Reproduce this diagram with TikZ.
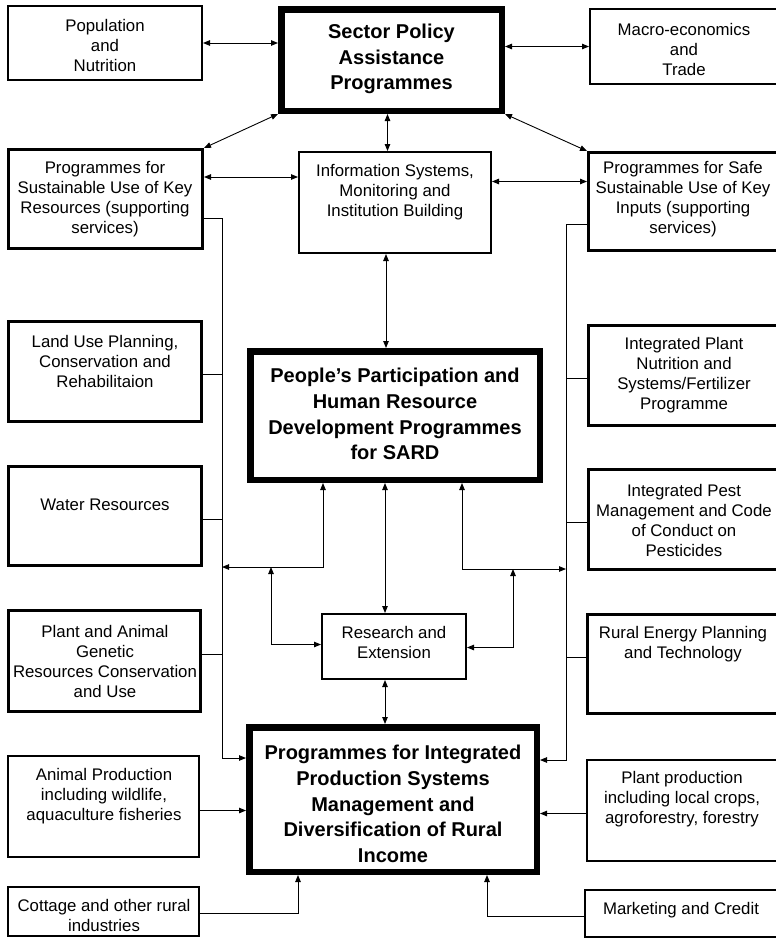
\documentclass[tikz,border=0pt]{standalone}
\usepackage{fontspec}
\setmainfont{Liberation Sans}
\usetikzlibrary{arrows.meta,fit}

\begin{document}
\begin{tikzpicture}[x=1pt,y=-1pt,
  >={Triangle[length=7pt,width=5.5pt]},
  conn/.style={line width=0.9pt},
  thinbox/.style={draw, inner sep=0pt, line width=1.6pt},
  midbox/.style={draw, inner sep=0pt, line width=3.4pt},
  heavybox/.style={draw, inner sep=0pt, line width=6.5pt},
  txt/.style={align=center, inner sep=0pt, font=\fontsize{16.8}{20}\selectfont},
  bigtxt/.style={align=center, inner sep=0pt, font=\fontsize{20}{25.7}\selectfont\bfseries}]

\clip (0,0) rectangle (776,940);
\fill[white] (0,0) rectangle (776,940);

% ---------- boxes ----------
\node[heavybox, fit={(281.25,9.25)(501.75,110.75)}] (sector) {};
\node[heavybox, fit={(250.25,351.25)(539.75,479.75)}] (people) {};
\node[heavybox, fit={(249.25,727.25)(536.75,871.75)}] (ipsm) {};

\node[thinbox, fit={(7.8,5.8)(202.2,80.2)}] (pop) {};
\node[thinbox, fit={(589.8,8.8)(779,84.2)}] (macro) {};
\node[thinbox, fit={(298.8,151.8)(491.2,253.2)}] (info) {};
\node[thinbox, fit={(321.8,613.8)(466.2,679.2)}] (res) {};
\node[thinbox, fit={(7.8,755.8)(199.2,857.2)}] (animal) {};
\node[thinbox, fit={(586.8,759.8)(779,861.2)}] (plantprod) {};
\node[thinbox, fit={(7.8,886.8)(199.2,936.2)}] (cottage) {};
\node[thinbox, fit={(584.8,889.8)(779,937.2)}] (market) {};

\node[midbox, fit={(8.7,149.7)(202.3,248.3)}] (sust) {};
\node[midbox, fit={(588.7,152.7)(779,250.3)}] (safe) {};
\node[midbox, fit={(8.7,321.7)(201.3,421.3)}] (land) {};
\node[midbox, fit={(8.7,466.7)(201.3,565.3)}] (water) {};
\node[midbox, fit={(8.7,610.7)(200.3,711.3)}] (genetic) {};
\node[midbox, fit={(588.7,325.7)(779,425.3)}] (ipn) {};
\node[midbox, fit={(588.7,469.7)(779,569.3)}] (ipm) {};
\node[midbox, fit={(587.7,614.7)(779,713.3)}] (energy) {};

% ---------- texts ----------
\node[bigtxt] (sectorT) at (391.5,59) {Sector Policy\\Assistance\\Programmes};
\node[bigtxt] (peopleT) at (395,414) {People’s Participation and\\Human Resource\\Development Programmes\\for SARD};
\node[bigtxt] (ipsmT) at (393,804) {Programmes for Integrated\\Production Systems\\Management and\\Diversification of Rural\\Income};

\node[txt] (popT) at (105,45) {Population\\and\\Nutrition};
\node[txt] (macroT) at (684,49) {Macro-economics\\and\\Trade};
\node[txt] (sustT) at (105,199) {Programmes for\\Sustainable Use of Key\\Resources (supporting\\services)};
\node[txt] (infoT) at (395,192) {Information Systems,\\Monitoring and\\Institution Building};
\node[txt] (safeT) at (683,199) {Programmes for Safe\\Sustainable Use of Key\\Inputs (supporting\\services)};
\node[txt] (landT) at (105,361) {Land Use Planning,\\Conservation and\\Rehabilitaion};
\node[txt] (waterT) at (105,505) {Water Resources};
\node[txt] (ipnT) at (684,375) {Integrated Plant\\Nutrition and\\Systems/Fertilizer\\Programme};
\node[txt] (ipmT) at (684,520) {Integrated Pest\\Management and Code\\of Conduct on\\Pesticides};
\node[txt] (resT) at (394,642) {Research and\\Extension};
\node[txt] (geneticT) at (105,661) {Plant and Animal\\Genetic\\Resources Conservation\\and Use};
\node[txt] (energyT) at (683,644) {Rural Energy Planning\\and Technology};
\node[txt] (animalT) at (104,796) {Animal Production\\including wildlife,\\aquaculture fisheries};
\node[txt] (plantprodT) at (682,799) {Plant production\\including local crops,\\agroforestry, forestry};
\node[txt] (cottageT) at (104,915) {Cottage and other rural\\industries};
\node[txt] (marketT) at (681,910) {Marketing and Credit};

% ---------- junction points of the bus lines ----------
\coordinate (lbusend) at (222,758);
\coordinate (rbusend) at (566,760);
\coordinate (lj) at (222,567);
\coordinate (lk) at (271,567);
\coordinate (rj) at (566,569);
\coordinate (rk) at (513,569);

% ---------- top connectors ----------
\draw[conn,<->] (pop.east) -- (pop.east -| sector.west);
\draw[conn,<->] (sector.east |- macro.west) -- (macro.west);
\draw[conn,<->] (sector.south west) -- (sust.north east);
\draw[conn,<->] (sector.south east) -- (safe.north west);
\draw[conn,<->] ([xshift=-4]sector.south) -- ([xshift=-4]sector.south |- info.north);
\draw[conn,<->] ([yshift=22]sust.east) -- ([yshift=22]sust.east -| info.west);
\draw[conn,<->] ([yshift=21]info.east) -- ([yshift=21]info.east -| safe.west);
\draw[conn,<->] ([xshift=-9]info.south) -- ([xshift=-9]info.south |- people.north);
\draw[conn,<->] ([xshift=-10]people.south) -- ([xshift=-10]people.south |- res.north);
\draw[conn,<->] ([xshift=-9]res.south) -- ([xshift=-9]res.south |- ipsm.north);

% ---------- left bus ----------
\draw[conn,->] ([yshift=-19]sust.east) -| (lbusend) -- (lbusend -| ipsm.west);
\draw[conn] ([yshift=-3]land.east) -- ([yshift=-3]land.east -| lbusend);
\draw[conn] ([yshift=-3]water.east) -- ([yshift=-3]water.east -| lbusend);
\draw[conn] ([yshift=7]genetic.east) -- ([yshift=7]genetic.east -| lbusend);
\draw[conn,->] ([yshift=-4]animal.east) -- ([yshift=-4]animal.east -| ipsm.west);
\draw[conn,->] ([yshift=-2]cottage.east) -| ([xshift=-95]ipsm.south);

% ---------- right bus ----------
\draw[conn,->] ([yshift=-23]safe.west) -| (rbusend) -- (rbusend -| ipsm.east);
\draw[conn] ([yshift=-3]ipn.west) -- ([yshift=-3]ipn.west -| rbusend);
\draw[conn] ([yshift=-3]ipm.west) -- ([yshift=-3]ipm.west -| rbusend);
\draw[conn] ([yshift=7]energy.west) -- ([yshift=7]energy.west -| rbusend);
\draw[conn,->] ([yshift=-3]plantprod.west) -- ([yshift=-3]plantprod.west -| ipsm.east);
\draw[conn,->] ([yshift=-3]market.west) -| ([xshift=94]ipsm.south);

% ---------- branches around research and extension ----------
\draw[conn,<->] ([xshift=-72]people.south) |- (lj);
\draw[conn,<->] (lk) |- ([yshift=2]res.west);
\draw[conn,<->] ([xshift=67]people.south) |- (rj);
\draw[conn,<->] (rk) |- ([yshift=-1]res.east);

\end{tikzpicture}
\end{document}
